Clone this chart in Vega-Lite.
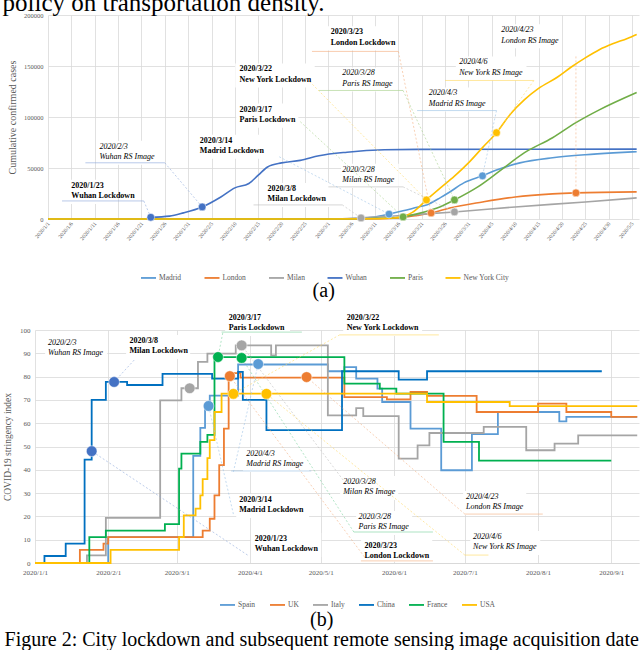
{
"$schema": "https://vega.github.io/schema/vega-lite/v6.json",
"background": "white",
"padding": {"left": 2, "top": -9, "right": 0, "bottom": 0},
"title": {"text": "policy on transportation density.", "anchor": "start", "font": "Liberation Serif", "fontSize": 25, "fontWeight": "normal", "color": "#000000", "offset": -4},
"spacing": 11,
"resolve": {"scale": {"color": "independent", "fill": "independent", "stroke": "independent"}, "legend": {"color": "independent"}},
"datasets": {
"casesA": [
{"c":"Madrid","d":"2020-01-01","v":0},{"c":"Madrid","d":"2020-02-25","v":0},{"c":"Madrid","d":"2020-03-05","v":300},{"c":"Madrid","d":"2020-03-08","v":800},{"c":"Madrid","d":"2020-03-11","v":2000},{"c":"Madrid","d":"2020-03-14","v":4800},{"c":"Madrid","d":"2020-03-17","v":8000},{"c":"Madrid","d":"2020-03-20","v":11500},{"c":"Madrid","d":"2020-03-22","v":13800},{"c":"Madrid","d":"2020-03-25","v":21000},{"c":"Madrid","d":"2020-03-27","v":26500},{"c":"Madrid","d":"2020-03-30","v":35400},{"c":"Madrid","d":"2020-04-03","v":42300},{"c":"Madrid","d":"2020-04-06","v":48000},{"c":"Madrid","d":"2020-04-11","v":55000},{"c":"Madrid","d":"2020-04-18","v":60000},{"c":"Madrid","d":"2020-04-25","v":63000},{"c":"Madrid","d":"2020-05-01","v":64800},{"c":"Madrid","d":"2020-05-06","v":66000},
{"c":"London","d":"2020-01-01","v":0},{"c":"London","d":"2020-03-05","v":0},{"c":"London","d":"2020-03-12","v":300},{"c":"London","d":"2020-03-17","v":1500},{"c":"London","d":"2020-03-20","v":3500},{"c":"London","d":"2020-03-23","v":5900},{"c":"London","d":"2020-03-27","v":10800},{"c":"London","d":"2020-04-03","v":16700},{"c":"London","d":"2020-04-10","v":21600},{"c":"London","d":"2020-04-18","v":24600},{"c":"London","d":"2020-04-23","v":25600},{"c":"London","d":"2020-05-06","v":26600},
{"c":"Milan","d":"2020-01-01","v":0},{"c":"Milan","d":"2020-02-25","v":0},{"c":"Milan","d":"2020-03-03","v":200},{"c":"Milan","d":"2020-03-08","v":1000},{"c":"Milan","d":"2020-03-15","v":3000},{"c":"Milan","d":"2020-03-22","v":5000},{"c":"Milan","d":"2020-03-28","v":6900},{"c":"Milan","d":"2020-04-10","v":11800},{"c":"Milan","d":"2020-04-25","v":16700},{"c":"Milan","d":"2020-05-06","v":20700},
{"c":"Wuhan","d":"2020-01-23","v":1700},{"c":"Wuhan","d":"2020-01-27","v":2800},{"c":"Wuhan","d":"2020-01-30","v":6000},{"c":"Wuhan","d":"2020-02-03","v":11800},{"c":"Wuhan","d":"2020-02-07","v":21600},{"c":"Wuhan","d":"2020-02-10","v":30500},{"c":"Wuhan","d":"2020-02-13","v":34800},{"c":"Wuhan","d":"2020-02-15","v":43000},{"c":"Wuhan","d":"2020-02-17","v":51000},{"c":"Wuhan","d":"2020-02-20","v":55000},{"c":"Wuhan","d":"2020-02-24","v":57500},{"c":"Wuhan","d":"2020-02-28","v":62000},{"c":"Wuhan","d":"2020-03-05","v":65500},{"c":"Wuhan","d":"2020-03-13","v":67900},{"c":"Wuhan","d":"2020-03-20","v":68300},{"c":"Wuhan","d":"2020-05-06","v":68500},
{"c":"Paris","d":"2020-01-01","v":0},{"c":"Paris","d":"2020-03-01","v":0},{"c":"Paris","d":"2020-03-10","v":500},{"c":"Paris","d":"2020-03-14","v":1000},{"c":"Paris","d":"2020-03-17","v":2000},{"c":"Paris","d":"2020-03-20","v":5000},{"c":"Paris","d":"2020-03-23","v":8900},{"c":"Paris","d":"2020-03-25","v":12000},{"c":"Paris","d":"2020-03-28","v":18700},{"c":"Paris","d":"2020-04-02","v":31500},{"c":"Paris","d":"2020-04-07","v":48200},{"c":"Paris","d":"2020-04-12","v":65000},{"c":"Paris","d":"2020-04-18","v":79700},{"c":"Paris","d":"2020-04-23","v":94500},{"c":"Paris","d":"2020-04-28","v":107000},{"c":"Paris","d":"2020-05-06","v":124000},
{"c":"New York City","d":"2020-01-01","v":0},{"c":"New York City","d":"2020-03-01","v":0},{"c":"New York City","d":"2020-03-10","v":200},{"c":"New York City","d":"2020-03-14","v":700},{"c":"New York City","d":"2020-03-17","v":2500},{"c":"New York City","d":"2020-03-19","v":6500},{"c":"New York City","d":"2020-03-22","v":18700},{"c":"New York City","d":"2020-03-25","v":30500},{"c":"New York City","d":"2020-03-28","v":42000},{"c":"New York City","d":"2020-03-31","v":55000},{"c":"New York City","d":"2020-04-03","v":70000},{"c":"New York City","d":"2020-04-06","v":84600},{"c":"New York City","d":"2020-04-09","v":103000},{"c":"New York City","d":"2020-04-12","v":117000},{"c":"New York City","d":"2020-04-15","v":128000},{"c":"New York City","d":"2020-04-19","v":139000},{"c":"New York City","d":"2020-04-22","v":149000},{"c":"New York City","d":"2020-04-25","v":158000},{"c":"New York City","d":"2020-04-28","v":166000},{"c":"New York City","d":"2020-05-01","v":172000},{"c":"New York City","d":"2020-05-04","v":177000},{"c":"New York City","d":"2020-05-06","v":181000}
],
"markA": [
{"c":"Wuhan","d":"2020-01-23","v":1700},{"c":"Wuhan","d":"2020-02-03","v":11800},{"c":"Milan","d":"2020-03-08","v":1000},{"c":"Madrid","d":"2020-03-14","v":4800},{"c":"Paris","d":"2020-03-17","v":2000},{"c":"New York City","d":"2020-03-22","v":18700},{"c":"London","d":"2020-03-23","v":5900},{"c":"Milan","d":"2020-03-28","v":6900},{"c":"Paris","d":"2020-03-28","v":18700},{"c":"Madrid","d":"2020-04-03","v":42300},{"c":"New York City","d":"2020-04-06","v":84600},{"c":"London","d":"2020-04-23","v":25600}
],
"annA": [
{"t":"2020/1/23\nWuhan Lockdown","k":"L","d":"2020-01-06","v":36400},
{"t":"2020/2/3\nWuhan RS Image","k":"R","d":"2020-01-12","v":74800},
{"t":"2020/3/14\nMadrid Lockdown","k":"L","d":"2020-02-02T12:00Z","v":80700},
{"t":"2020/3/8\nMilan Lockdown","k":"L","d":"2020-02-17","v":33500},
{"t":"2020/3/22\nNew York Lockdown","k":"L","d":"2020-02-11","v":150600},
{"t":"2020/3/17\nParis Lockdown","k":"L","d":"2020-02-11","v":111200},
{"t":"2020/3/23\nLondon Lockdown","k":"L","d":"2020-03-01T12:00Z","v":187000},
{"t":"2020/3/28\nParis RS Image","k":"R","d":"2020-03-04","v":146600},
{"t":"2020/3/28\nMilan RS Image","k":"R","d":"2020-03-04","v":52200},
{"t":"2020/4/3\nMadrid RS Image","k":"R","d":"2020-03-22T12:00Z","v":127000},
{"t":"2020/4/6\nNew York RS Image","k":"R","d":"2020-03-29","v":157400},
{"t":"2020/4/23\nLondon RS Image","k":"R","d":"2020-04-07","v":189000}
],
"boxA": [
{"d":"2020-01-05T07:00Z","d2":"2020-01-15T22:00Z","v":38400,"v2":14800},
{"d":"2020-01-11T07:00Z","d2":"2020-01-24T14:00Z","v":76800,"v2":53100},
{"d":"2020-02-02","d2":"2020-02-17","v":82700,"v2":59000},
{"d":"2020-02-16T14:00Z","d2":"2020-03-01T07:00Z","v":35400,"v2":11800},
{"d":"2020-02-10T02:00Z","d2":"2020-02-27T02:00Z","v":152500,"v2":128900},
{"d":"2020-02-10T07:00Z","d2":"2020-02-23T14:00Z","v":113200,"v2":89500},
{"d":"2020-02-29","d2":"2020-03-15T05:00Z","v":188900,"v2":165300},
{"d":"2020-03-03T05:00Z","d2":"2020-03-15T05:00Z","v":148600,"v2":125000},
{"d":"2020-03-03T17:00Z","d2":"2020-03-16T02:00Z","v":54100,"v2":30500},
{"d":"2020-03-21T22:00Z","d2":"2020-04-04T10:00Z","v":128900,"v2":105300},
{"d":"2020-03-28T07:00Z","d2":"2020-04-12T10:00Z","v":159400,"v2":135800},
{"d":"2020-04-06T02:00Z","d2":"2020-04-19T17:00Z","v":190900,"v2":167300}
],
"ulA": [
{"c":"Wuhan","d":"2020-01-04","d2":"2020-01-21T12:00Z","v":17700},
{"c":"Wuhan","d":"2020-01-09","d2":"2020-01-26","v":55100},
{"c":"Milan","d":"2020-02-14","d2":"2020-03-04","v":13800},
{"c":"London","d":"2020-02-26T12:00Z","d2":"2020-03-16","v":164300},
{"c":"Paris","d":"2020-02-28","d2":"2020-03-17","v":126000},
{"c":"Milan","d":"2020-03-01","d2":"2020-03-17","v":31500},
{"c":"Madrid","d":"2020-03-20","d2":"2020-04-06","v":106300},
{"c":"New York City","d":"2020-03-26","d2":"2020-04-14","v":135800}
],
"ptA": [
{"c":"Wuhan","d":"2020-01-21T12:00Z","v":17700,"d2":"2020-01-23","v2":1700},
{"c":"Wuhan","d":"2020-01-26","v":55100,"d2":"2020-02-03","v2":11800},
{"c":"Madrid","d":"2020-02-19T12:00Z","v":61000,"d2":"2020-03-14","v2":4800},
{"c":"Milan","d":"2020-03-04","v":13800,"d2":"2020-03-08","v2":1000},
{"c":"New York City","d":"2020-02-26","v":134800,"d2":"2020-03-22","v2":18700},
{"c":"Paris","d":"2020-02-24","v":95400,"d2":"2020-03-17","v2":2000},
{"c":"London","d":"2020-03-16","v":164300,"d2":"2020-03-23","v2":5900},
{"c":"Paris","d":"2020-03-17","v":126000,"d2":"2020-03-28","v2":18700},
{"c":"Milan","d":"2020-03-17","v":31500,"d2":"2020-03-28","v2":6900},
{"c":"Madrid","d":"2020-04-06","v":106300,"d2":"2020-04-03","v2":42300},
{"c":"New York City","d":"2020-04-14","v":135800,"d2":"2020-04-06","v2":84600},
{"c":"London","d":"2020-04-23","v":159400,"d2":"2020-04-23","v2":25600}
],
"sB": [
{"c":"Spain","d":"2020-01-01","v":0},{"c":"Spain","d":"2020-02-01","v":11.1},{"c":"Spain","d":"2020-03-08","v":46},{"c":"Spain","d":"2020-03-11","v":58},{"c":"Spain","d":"2020-03-13","v":67.4},{"c":"Spain","d":"2020-03-15","v":71.8},{"c":"Spain","d":"2020-03-27","v":85.2},{"c":"Spain","d":"2020-05-04","v":82.3},{"c":"Spain","d":"2020-05-11","v":84.1},{"c":"Spain","d":"2020-05-16","v":79.1},{"c":"Spain","d":"2020-05-25","v":74.8},{"c":"Spain","d":"2020-05-27","v":69.1},{"c":"Spain","d":"2020-06-08","v":57.7},{"c":"Spain","d":"2020-06-21","v":39.8},{"c":"Spain","d":"2020-07-04","v":55.3},{"c":"Spain","d":"2020-07-15","v":64.8},{"c":"Spain","d":"2020-08-10","v":60.8},{"c":"Spain","d":"2020-08-13","v":62.7},{"c":"Spain","d":"2020-09-12","v":62.7},
{"c":"UK","d":"2020-01-01","v":0},{"c":"UK","d":"2020-01-20","v":5.6},{"c":"UK","d":"2020-01-30","v":8.3},{"c":"UK","d":"2020-02-01","v":11.1},{"c":"UK","d":"2020-03-12","v":13.9},{"c":"UK","d":"2020-03-15","v":19},{"c":"UK","d":"2020-03-17","v":29},{"c":"UK","d":"2020-03-19","v":42},{"c":"UK","d":"2020-03-21","v":57.7},{"c":"UK","d":"2020-03-23","v":79.6},{"c":"UK","d":"2020-03-25","v":81.5},{"c":"UK","d":"2020-03-28","v":79.6},{"c":"UK","d":"2020-05-11","v":71.2},{"c":"UK","d":"2020-05-29","v":70.2},{"c":"UK","d":"2020-06-08","v":73.4},{"c":"UK","d":"2020-06-15","v":71.7},{"c":"UK","d":"2020-07-06","v":64.8},{"c":"UK","d":"2020-08-01","v":68.4},{"c":"UK","d":"2020-08-13","v":64.8},{"c":"UK","d":"2020-09-01","v":62.7},{"c":"UK","d":"2020-09-12","v":62.7},
{"c":"Italy","d":"2020-01-01","v":0},{"c":"Italy","d":"2020-01-23","v":3.3},{"c":"Italy","d":"2020-01-31","v":19.4},{"c":"Italy","d":"2020-02-23","v":69.8},{"c":"Italy","d":"2020-03-03","v":75},{"c":"Italy","d":"2020-03-10","v":86.3},{"c":"Italy","d":"2020-03-14","v":89.9},{"c":"Italy","d":"2020-03-26","v":93.4},{"c":"Italy","d":"2020-04-10","v":89.1},{"c":"Italy","d":"2020-04-12","v":93.4},{"c":"Italy","d":"2020-05-04","v":63.4},{"c":"Italy","d":"2020-05-16","v":66.5},{"c":"Italy","d":"2020-05-19","v":63},{"c":"Italy","d":"2020-06-03","v":44.8},{"c":"Italy","d":"2020-06-11","v":50.5},{"c":"Italy","d":"2020-06-16","v":55.8},{"c":"Italy","d":"2020-07-09","v":58.4},{"c":"Italy","d":"2020-07-27","v":48.4},{"c":"Italy","d":"2020-08-08","v":51.2},{"c":"Italy","d":"2020-08-18","v":54.8},{"c":"Italy","d":"2020-09-12","v":54.8},
{"c":"China","d":"2020-01-01","v":0},{"c":"China","d":"2020-01-05","v":3},{"c":"China","d":"2020-01-14","v":8.3},{"c":"China","d":"2020-01-22","v":44.4},{"c":"China","d":"2020-01-25","v":70},{"c":"China","d":"2020-01-31","v":77.7},{"c":"China","d":"2020-02-09","v":76.4},{"c":"China","d":"2020-02-24","v":81.2},{"c":"China","d":"2020-03-16","v":79.1},{"c":"China","d":"2020-03-27","v":82},{"c":"China","d":"2020-03-29","v":70},{"c":"China","d":"2020-04-08","v":57},{"c":"China","d":"2020-05-10","v":82.3},{"c":"China","d":"2020-06-03","v":78.7},{"c":"China","d":"2020-06-15","v":82.3},{"c":"China","d":"2020-08-28","v":82.3},
{"c":"France","d":"2020-01-01","v":0},{"c":"France","d":"2020-01-24","v":11.1},{"c":"France","d":"2020-01-31","v":13.9},{"c":"France","d":"2020-02-25","v":16.7},{"c":"France","d":"2020-03-02","v":40.5},{"c":"France","d":"2020-03-03","v":46.9},{"c":"France","d":"2020-03-11","v":52},{"c":"France","d":"2020-03-14","v":55},{"c":"France","d":"2020-03-17","v":88.4},{"c":"France","d":"2020-05-11","v":77},{"c":"France","d":"2020-05-26","v":74.8},{"c":"France","d":"2020-06-02","v":72.7},{"c":"France","d":"2020-06-22","v":52},{"c":"France","d":"2020-07-07","v":43.9},{"c":"France","d":"2020-09-01","v":43.9},
{"c":"USA","d":"2020-01-01","v":0},{"c":"USA","d":"2020-02-02","v":5.6},{"c":"USA","d":"2020-03-02","v":11.1},{"c":"USA","d":"2020-03-04","v":20.4},{"c":"USA","d":"2020-03-09","v":23.3},{"c":"USA","d":"2020-03-11","v":29},{"c":"USA","d":"2020-03-12","v":36},{"c":"USA","d":"2020-03-14","v":45},{"c":"USA","d":"2020-03-15","v":52.7},{"c":"USA","d":"2020-03-17","v":64.8},{"c":"USA","d":"2020-03-20","v":72.7},{"c":"USA","d":"2020-06-15","v":69.1},{"c":"USA","d":"2020-07-20","v":67.3},{"c":"USA","d":"2020-09-12","v":67.3}
],
"markB": [
{"c":"China","d":"2020-01-25","v":48},{"c":"China","d":"2020-02-03T12:00Z","v":77.7},{"c":"Italy","d":"2020-03-06T12:00Z","v":75},{"c":"Spain","d":"2020-03-14T12:00Z","v":67.4},{"c":"France","d":"2020-03-18T12:00Z","v":88.4},{"c":"UK","d":"2020-03-23T12:00Z","v":80.2},{"c":"USA","d":"2020-03-25","v":72.6},{"c":"Italy","d":"2020-03-28T12:00Z","v":93.4},{"c":"France","d":"2020-03-28T12:00Z","v":88},{"c":"Spain","d":"2020-04-04T12:00Z","v":85.4},{"c":"USA","d":"2020-04-08","v":72.6},{"c":"UK","d":"2020-04-25","v":79.8}
],
"annB": [
{"t":"2020/2/3\nWuhan RS Image","k":"R","d":"2020-01-06T12:00Z","v":96.1},
{"t":"2020/3/8\nMilan Lockdown","k":"L","d":"2020-02-10","v":97},
{"t":"2020/3/17\nParis Lockdown","k":"L","d":"2020-03-23","v":106.9},
{"t":"2020/3/22\nNew York Lockdown","k":"L","d":"2020-05-12","v":106.9},
{"t":"2020/4/3\nMadrid RS Image","k":"R","d":"2020-03-30T12:00Z","v":48.5},
{"t":"2020/3/14\nMadrid Lockdown","k":"L","d":"2020-03-27T12:00Z","v":28.8},
{"t":"2020/1/23\nWuhan Lockdown","k":"L","d":"2020-04-03","v":12},
{"t":"2020/3/28\nMilan RS Image","k":"R","d":"2020-05-10T12:00Z","v":36.5},
{"t":"2020/3/28\nParis RS Image","k":"R","d":"2020-05-17","v":21.5},
{"t":"2020/3/23\nLondon Lockdown","k":"L","d":"2020-05-19T12:00Z","v":9},
{"t":"2020/4/23\nLondon RS Image","k":"R","d":"2020-07-01T12:00Z","v":30},
{"t":"2020/4/6\nNew York RS Image","k":"R","d":"2020-07-04T12:00Z","v":12.9}
],
"boxB": [
{"d":"2020-01-05T07:00Z","d2":"2020-01-31T14:00Z","v":97,"v2":86.7},
{"d":"2020-02-08T14:00Z","d2":"2020-03-06T17:00Z","v":97.9,"v2":87.6},
{"d":"2020-03-21T12:00Z","d2":"2020-04-18","v":107.7,"v2":97.4},
{"d":"2020-05-10T12:00Z","d2":"2020-06-12T22:00Z","v":107.7,"v2":97.4},
{"d":"2020-03-29T02:00Z","d2":"2020-04-26T02:00Z","v":49.4,"v2":39.1},
{"d":"2020-03-26T05:00Z","d2":"2020-04-26T02:00Z","v":29.6,"v2":19.3},
{"d":"2020-04-01T12:00Z","d2":"2020-05-01T05:00Z","v":12.9,"v2":2.6},
{"d":"2020-05-09T05:00Z","d2":"2020-06-02T19:00Z","v":37.3,"v2":27},
{"d":"2020-05-16","d2":"2020-06-08T17:00Z","v":22.3,"v2":12},
{"d":"2020-05-18T02:00Z","d2":"2020-06-17T05:00Z","v":9.9,"v2":0.5},
{"d":"2020-06-30T07:00Z","d2":"2020-07-27","v":30.9,"v2":20.6},
{"d":"2020-07-03T07:00Z","d2":"2020-08-01T22:00Z","v":13.7,"v2":3.4}
],
"ulB": [
{"c":"France","d":"2020-03-20","d2":"2020-04-23","v":99.1},
{"c":"USA","d":"2020-05-09","d2":"2020-06-20","v":97.9},
{"c":"Spain","d":"2020-03-24","d2":"2020-04-27","v":39.5},
{"c":"France","d":"2020-05-15","d2":"2020-06-17T12:00Z","v":13.3},
{"c":"UK","d":"2020-05-18","d2":"2020-06-17T12:00Z","v":0.9},
{"c":"UK","d":"2020-07-01","d2":"2020-08-03","v":21},
{"c":"USA","d":"2020-07-01","d2":"2020-07-11","v":3.4}
],
"ptB": [
{"c":"China","d":"2020-03-31","v":3.4,"d2":"2020-01-25","v2":48},
{"c":"China","d":"2020-02-12","v":87.1,"d2":"2020-02-03T12:00Z","v2":77.7},
{"c":"France","d":"2020-03-20T12:00Z","v":98.7,"d2":"2020-03-18T12:00Z","v2":88.4},
{"c":"USA","d":"2020-05-09","v":97.9,"d2":"2020-03-25","v2":72.6},
{"c":"Spain","d":"2020-03-25","v":39.1,"d2":"2020-04-04T12:00Z","v2":85.4},
{"c":"Spain","d":"2020-03-25","v":21,"d2":"2020-03-14T12:00Z","v2":67.4},
{"c":"Italy","d":"2020-05-10T12:00Z","v":35.6,"d2":"2020-03-28T12:00Z","v2":93.4},
{"c":"France","d":"2020-05-15","v":13.3,"d2":"2020-03-28T12:00Z","v2":88},
{"c":"UK","d":"2020-05-19T12:00Z","v":2.6,"d2":"2020-03-23T12:00Z","v2":80.2},
{"c":"UK","d":"2020-07-01","v":21,"d2":"2020-04-25","v2":79.8},
{"c":"USA","d":"2020-07-01","v":3.4,"d2":"2020-04-08","v2":72.6}
]
},
"vconcat": [
{
"width": 604, "height": 204,
"title": {"text": "(a)", "orient": "bottom", "anchor": "middle", "frame": "bounds", "offset": -1, "font": "Liberation Serif", "fontSize": 20, "fontWeight": "normal", "color": "#000000"},
"encoding": {
"x": {"field": "d", "type": "temporal",
 "scale": {"type": "utc", "nice": false, "domain": [{"year":2020,"month":1,"date":1,"utc":true},{"year":2020,"month":5,"date":6,"hours":12,"utc":true}], "range": [13, 604]},
 "axis": {"title": null, "format": "%Y/%-m/%-d", "labelAngle": -50, "labelAlign": "right", "labelBaseline": "middle", "labelFontSize": 5.5, "labelPadding": 3, "labelOverlap": false, "labelFlush": false, "ticks": false, "domain": false, "grid": true,
  "values": [{"year":2020,"month":1,"date":1,"utc":true},{"year":2020,"month":1,"date":6,"utc":true},{"year":2020,"month":1,"date":11,"utc":true},{"year":2020,"month":1,"date":16,"utc":true},{"year":2020,"month":1,"date":21,"utc":true},{"year":2020,"month":1,"date":26,"utc":true},{"year":2020,"month":1,"date":31,"utc":true},{"year":2020,"month":2,"date":5,"utc":true},{"year":2020,"month":2,"date":10,"utc":true},{"year":2020,"month":2,"date":15,"utc":true},{"year":2020,"month":2,"date":20,"utc":true},{"year":2020,"month":2,"date":25,"utc":true},{"year":2020,"month":3,"date":1,"utc":true},{"year":2020,"month":3,"date":6,"utc":true},{"year":2020,"month":3,"date":11,"utc":true},{"year":2020,"month":3,"date":16,"utc":true},{"year":2020,"month":3,"date":21,"utc":true},{"year":2020,"month":3,"date":26,"utc":true},{"year":2020,"month":3,"date":31,"utc":true},{"year":2020,"month":4,"date":5,"utc":true},{"year":2020,"month":4,"date":10,"utc":true},{"year":2020,"month":4,"date":15,"utc":true},{"year":2020,"month":4,"date":20,"utc":true},{"year":2020,"month":4,"date":25,"utc":true},{"year":2020,"month":4,"date":30,"utc":true},{"year":2020,"month":5,"date":5,"utc":true}]}},
"y": {"field": "v", "type": "quantitative", "scale": {"domain": [0, 200000]},
 "axis": {"values": [0, 50000, 100000, 150000, 200000], "format": "d", "offset": -13, "title": "Cumulative confirmed cases", "titleFontSize": 10, "titlePadding": 6, "labelFontSize": 6.5, "labelPadding": 5, "ticks": false, "domain": false, "grid": true}}
},
"layer": [
{"data": {"name": "boxA"}, "mark": {"type": "rect", "color": "white", "opacity": 1},
 "encoding": {"x2": {"field": "d2"}, "y2": {"field": "v2"}}},
{"data": {"name": "casesA"}, "mark": {"type": "line", "strokeWidth": 1.6, "interpolate": "monotone"},
 "encoding": {"color": {"field": "c", "type": "nominal",
  "scale": {"domain": ["Madrid","London","Milan","Wuhan","Paris","New York City"], "range": ["#5B9BD5","#ED7D31","#A5A5A5","#4472C4","#70AD47","#FFC000"]},
  "legend": {"orient": "none", "legendX": 105, "legendY": 254, "direction": "horizontal", "title": null, "symbolType": "stroke", "columnPadding": 18.5, "padding": 0}}}},
{"data": {"name": "ulA"}, "mark": {"type": "rule", "strokeWidth": 0.8, "opacity": 0.8},
 "encoding": {"x2": {"field": "d2"}, "stroke": {"field": "c", "type": "nominal", "legend": null,
  "scale": {"domain": ["Madrid","London","Milan","Wuhan","Paris","New York City"], "range": ["#9DC3E6","#F4B183","#BFBFBF","#8FAADC","#A9D18E","#FFD966"]}}}},
{"data": {"name": "ptA"}, "mark": {"type": "rule", "strokeWidth": 0.7, "strokeDash": [2, 2], "opacity": 0.85},
 "encoding": {"x2": {"field": "d2"}, "y2": {"field": "v2"}, "stroke": {"field": "c", "type": "nominal", "legend": null}}},
{"data": {"name": "markA"}, "mark": {"type": "point", "shape": "circle", "filled": true, "size": 60, "opacity": 1, "stroke": "white", "strokeWidth": 0.5},
 "encoding": {"fill": {"field": "c", "type": "nominal", "legend": null,
  "scale": {"domain": ["Madrid","London","Milan","Wuhan","Paris","New York City"], "range": ["#5B9BD5","#ED7D31","#A5A5A5","#4472C4","#70AD47","#FFC000"]}}}},
{"data": {"name": "annA"}, "transform": [{"filter": "datum.k == 'L'"}],
 "mark": {"type": "text", "align": "left", "baseline": "top", "lineBreak": "\n", "lineHeight": 10.5, "font": "Liberation Serif", "fontSize": 8, "fontWeight": "bold", "color": "#000000"},
 "encoding": {"text": {"field": "t"}}},
{"data": {"name": "annA"}, "transform": [{"filter": "datum.k == 'R'"}],
 "mark": {"type": "text", "align": "left", "baseline": "top", "lineBreak": "\n", "lineHeight": 10.5, "font": "Liberation Serif", "fontSize": 8, "fontStyle": "italic", "color": "#000000"},
 "encoding": {"text": {"field": "t"}}}
]
},
{
"width": 604, "height": 233,
"title": {"text": "(b)", "subtitle": "Figure 2: City lockdown and subsequent remote sensing image acquisition date", "orient": "bottom", "anchor": "middle", "frame": "bounds", "offset": 1, "font": "Liberation Serif", "fontSize": 20, "fontWeight": "normal", "color": "#000000", "subtitleFont": "Liberation Serif", "subtitleFontSize": 20, "subtitleColor": "#000000", "subtitlePadding": 0},
"encoding": {
"x": {"field": "d", "type": "temporal",
 "scale": {"type": "utc", "nice": false, "domain": [{"year":2020,"month":1,"date":1,"utc":true},{"year":2020,"month":9,"date":12,"hours":18,"utc":true}]},
 "axis": {"title": null, "tickCount": {"interval": "month", "step": 1}, "format": "%Y/%-m/%-d", "labelAngle": 0, "labelFontSize": 7, "labelPadding": 5, "labelFlush": false, "ticks": false, "domain": true, "grid": true}},
"y": {"field": "v", "type": "quantitative", "scale": {"domain": [0, 100]},
 "axis": {"values": [0,10,20,30,40,50,60,70,80,90,100], "title": "COVID-19 stringency index", "titleFontSize": 9.5, "titlePadding": 7, "labelFontSize": 7, "labelPadding": 5, "ticks": false, "domain": false, "grid": true}}
},
"layer": [
{"data": {"name": "boxB"}, "mark": {"type": "rect", "color": "white", "opacity": 1},
 "encoding": {"x2": {"field": "d2"}, "y2": {"field": "v2"}}},
{"data": {"name": "sB"}, "mark": {"type": "line", "strokeWidth": 1.8, "interpolate": "step-after"},
 "encoding": {"color": {"field": "c", "type": "nominal",
  "scale": {"domain": ["Spain","UK","Italy","China","France","USA"], "range": ["#5B9BD5","#ED7D31","#A5A5A5","#0070C0","#00B050","#FFC000"]},
  "legend": {"orient": "none", "legendX": 184, "legendY": 266, "direction": "horizontal", "title": null, "symbolType": "stroke", "columnPadding": 10, "padding": 0}}}},
{"data": {"name": "ulB"}, "mark": {"type": "rule", "strokeWidth": 0.8, "opacity": 0.8},
 "encoding": {"x2": {"field": "d2"}, "stroke": {"field": "c", "type": "nominal", "legend": null,
  "scale": {"domain": ["Spain","UK","Italy","China","France","USA"], "range": ["#9DC3E6","#F4B183","#BFBFBF","#8FAADC","#7FD3A0","#FFD966"]}}}},
{"data": {"name": "ptB"}, "mark": {"type": "rule", "strokeWidth": 0.7, "strokeDash": [2, 2], "opacity": 0.85},
 "encoding": {"x2": {"field": "d2"}, "y2": {"field": "v2"}, "stroke": {"field": "c", "type": "nominal", "legend": null}}},
{"data": {"name": "markB"}, "mark": {"type": "point", "shape": "circle", "filled": true, "size": 115, "opacity": 1, "stroke": "white", "strokeWidth": 0.5},
 "encoding": {"fill": {"field": "c", "type": "nominal", "legend": null,
  "scale": {"domain": ["Spain","UK","Italy","China","France","USA"], "range": ["#5B9BD5","#ED7D31","#A5A5A5","#4472C4","#00B050","#FFC000"]}}}},
{"data": {"name": "annB"}, "transform": [{"filter": "datum.k == 'L'"}],
 "mark": {"type": "text", "align": "left", "baseline": "top", "lineBreak": "\n", "lineHeight": 10, "font": "Liberation Serif", "fontSize": 8, "fontWeight": "bold", "color": "#000000"},
 "encoding": {"text": {"field": "t"}}},
{"data": {"name": "annB"}, "transform": [{"filter": "datum.k == 'R'"}],
 "mark": {"type": "text", "align": "left", "baseline": "top", "lineBreak": "\n", "lineHeight": 10, "font": "Liberation Serif", "fontSize": 8, "fontStyle": "italic", "color": "#000000"},
 "encoding": {"text": {"field": "t"}}}
]
}
],
"config": {
"view": {"stroke": null},
"font": "Liberation Serif",
"axis": {"labelFont": "Liberation Serif", "titleFont": "Liberation Serif", "labelColor": "#595959", "titleColor": "#595959", "titleFontWeight": "normal", "gridColor": "#D9D9D9", "gridWidth": 0.8, "domainColor": "#D9D9D9"},
"legend": {"labelFont": "Liberation Serif", "labelFontSize": 7.5, "labelColor": "#595959", "symbolStrokeWidth": 1.8, "symbolSize": 225, "labelOffset": 2},
"title": {"font": "Liberation Serif"}
}
}
